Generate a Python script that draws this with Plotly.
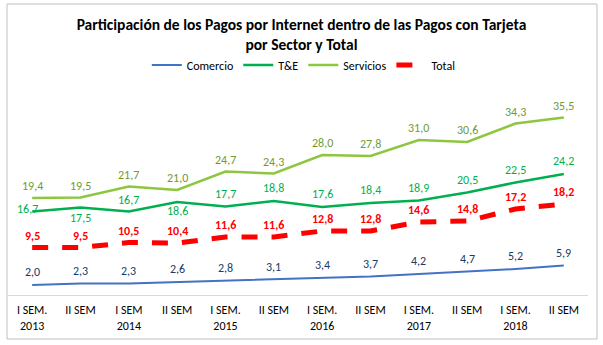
import plotly.graph_objects as go

# Semesters on the x axis (two-line tick labels)
periodos = ["I SEM.<br>2013", "II SEM", "I SEM<br>2014", "II SEM",
            "I SEM.<br>2015", "II SEM", "I SEM.<br>2016", "II SEM",
            "I SEM.<br>2017", "II SEM", "I SEM.<br>2018", "II SEM"]
cat_ids = list(range(len(periodos)))

# Share of internet payments (%) by sector
comercio = [2.0, 2.3, 2.3, 2.6, 2.8, 3.1, 3.4, 3.7, 4.2, 4.7, 5.2, 5.9]
tye = [16.7, 17.5, 16.7, 18.6, 17.7, 18.8, 17.6, 18.4, 18.9, 20.5, 22.5, 24.2]
servicios = [19.4, 19.5, 21.7, 21.0, 24.7, 24.3, 28.0, 27.8, 31.0, 30.6, 34.3, 35.5]
total = [9.5, 9.5, 10.5, 10.4, 11.6, 11.6, 12.8, 12.8, 14.6, 14.8, 17.2, 18.2]

FONT = "Carlito, Lato, sans-serif"

series = [
    dict(name="Comercio", y=comercio, color="#4472C4", width=2, dash="solid",
         label_color="#203864", bold=False),
    dict(name="T&E", y=tye, color="#00B050", width=2.5, dash="solid",
         label_color="#00B050", bold=False),
    dict(name="Servicios", y=servicios, color="#8DC63F", width=2.5, dash="solid",
         label_color="#6F9A32", bold=False),
    dict(name="Total", y=total, color="#FF0000", width=5, dash="16px,14px",
         label_color="#FF0000", bold=True),
]

# Label offsets (pixels) per series; T&E labels dodge the neighbouring line
offsets = {
    "Comercio": [(0, 13)] * 12,
    "T&E": [(-5, 3), (0, -10), (0, 12), (0, -9)] + [(0, 13)] * 8,
    "Servicios": [(0, 12)] * 12,
    "Total": [(0, 12)] * 12,
}

fig = go.Figure()
annotations = []
for s in series:
    fig.add_trace(go.Scatter(
        x=cat_ids, y=s["y"], name=s["name"], mode="lines",
        line=dict(color=s["color"], width=s["width"], dash=s["dash"]),
        hoverinfo="skip",
    ))
    for i, v in enumerate(s["y"]):
        dx, dy = offsets[s["name"]][i]
        txt = f"{v:.1f}".replace(".", ",")
        if s["bold"]:
            txt = f"<b>{txt}</b>"
        annotations.append(dict(
            x=i, y=v, xref="x", yref="y", text=txt, showarrow=False,
            xshift=dx, yshift=dy, yanchor="middle", xanchor="center",
            font=dict(family=FONT, size=12, color=s["label_color"]),
        ))

fig.update_layout(
    width=603, height=345,
    margin=dict(l=8, r=15, t=95, b=50),
    paper_bgcolor="white", plot_bgcolor="white",
    font=dict(family=FONT, size=12, color="#000000"),
    title=dict(
        text="<b>Participación de los Pagos por Internet dentro de las Pagos con Tarjeta<br>por Sector y Total</b>",
        x=0.5, xanchor="center", xref="container",
        y=1 - 29.5 / 345, yanchor="middle", yref="container",
        font=dict(family=FONT, size=15.5, color="#000000"),
    ),
    legend=dict(
        orientation="h", x=0.51, xanchor="center", y=1.15, yanchor="middle",
        font=dict(family=FONT, size=12, color="#000000"),
        itemwidth=30, tracegroupgap=0,
    ),
    xaxis=dict(
        tickmode="array", tickvals=cat_ids, ticktext=periodos,
        range=[-0.5, len(periodos) - 0.5],
        showgrid=False, zeroline=False, showline=True,
        linecolor="#D9D9D9", linewidth=1, ticks="",
        ticklabelstandoff=4,
        tickfont=dict(family=FONT, size=12, color="#000000"),
        fixedrange=True,
    ),
    yaxis=dict(
        range=[0, 40], visible=False, showgrid=False, zeroline=False,
        fixedrange=True,
    ),
    annotations=annotations,
    shapes=[dict(
        type="rect", xref="paper", yref="paper",
        x0=(7 - 8) / 580, x1=(597 - 8) / 580,
        y0=(295 - 339) / 200, y1=(295 - 4) / 200,
        line=dict(color="#BFBFBF", width=1), fillcolor="rgba(0,0,0,0)",
        layer="below",
    )],
)

fig.write_html("out.html")
